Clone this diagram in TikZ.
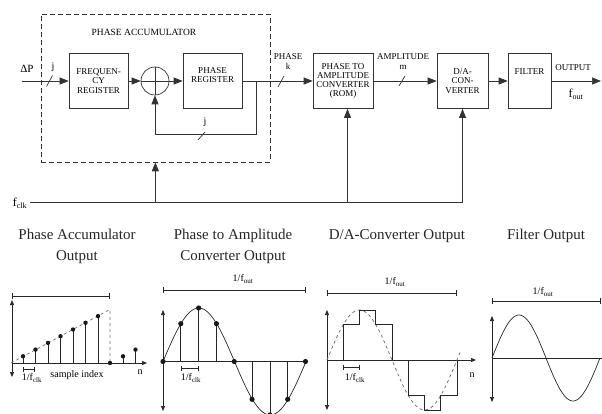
\documentclass[tikz,border=0pt]{standalone}
\usepackage{fontspec}
\setmainfont{Liberation Serif}
\usetikzlibrary{arrows.meta}
\begin{document}
\begin{tikzpicture}[x=1pt,y=-1pt,
  ln/.style={draw=black!80, line width=0.7pt},
  blk/.style={ln, rectangle, minimum height=55pt, inner sep=0pt, align=center, font=\fontsize{9}{9.3}\selectfont},
  lbl/.style={inner sep=0pt, align=center, font=\fontsize{9}{10}\selectfont},
  arr/.style={ln, -{Triangle[length=9pt,width=7pt]}},
  ax/.style={draw=black!85, line width=0.7pt},
  tip/.style={-{Triangle[length=5pt,width=4pt]}},
  tips/.style={{Triangle[length=5pt,width=4pt]}-{Triangle[length=5pt,width=4pt]}},
  brk/.style={ax, {Bar[width=6pt]}-{Bar[width=6pt]}},
  sbrk/.style={ax, {Bar[width=5pt]}-{Bar[width=5pt]}},
  ttl/.style={inner sep=0pt, align=center, font=\fontsize{15}{21}\selectfont, text=black!85},
  sm/.style={inner sep=0pt, font=\fontsize{10}{12}\selectfont},
  dot/.style={fill=black!90}
]
\useasboundingbox (0,0) rectangle (602,414);

% ---------------- block diagram ----------------
\node[ln, dashed, dash pattern=on 5pt off 3pt, minimum width=229pt, minimum height=148pt, inner sep=0pt] (acc) at (155.35,88) {};
\node[lbl, font=\fontsize{9.5}{10}\selectfont] (acct) at (144,32) {PHASE ACCUMULATOR};

\node[blk, minimum width=59pt] (freq) at (98.5,81) {FREQUEN-\\CY\\REGISTER};
\node[ln, circle, minimum size=28pt, inner sep=0pt] (add) at (155,81) {};
\draw[ln] (add.west) -- (add.east) (add.north) -- (add.south);
\node[blk, minimum width=59pt] (preg) at (212.5,81) {PHASE\\REGISTER\\[2pt]};
\node[blk, minimum width=60pt] (rom) at (343,81) {PHASE TO\\AMPLITUDE\\CONVERTER\\(ROM)};
\node[blk, minimum width=51pt] (dac) at (462.5,81) {D/A-\\CON-\\VERTER};
\node[blk, minimum width=43pt] (filt) at (529.5,81) {};
\node[lbl] (filtt) at (529.5,72) {FILTER};

\coordinate (in) at (22,81);
\coordinate (out) at (601,81);
\coordinate (tap) at (256,81);

\draw[arr] (in) -- (freq.west);
\draw[arr] (freq.east) -- (add.west);
\draw[arr] (add.east) -- (preg.west);
\draw[arr] (preg.east) -- (rom.west);
\draw[arr] (tap) -- (256,134) -| (add.south);
\draw[arr] (rom.east) -- (dac.west);
\draw[arr] (dac.east) -- (filt.west);
\draw[arr] (filt.east) -- (out);

% slashes
\draw[ln] (46.5,86.5) -- (52.5,75.5);
\draw[ln] (198,140) -- (205,132);
\draw[ln] (278,87) -- (284,76);
\draw[ln] (399,86) -- (405,76);

\node[inner sep=0pt, font=\fontsize{11}{12}\selectfont] (dp) at (27,69) {ΔP};
\node[sm] (jin) at (53,67) {j};
\node[sm] (jfb) at (205,122) {j};
\node[lbl] (ph) at (288,62) {PHASE\\k};
\node[lbl] (am) at (403,62) {AMPLITUDE\\m};
\node[lbl] (op) at (573,68) {OUTPUT};
\node[inner sep=0pt, font=\fontsize{12}{14}\selectfont] (fo) at (576,94) {f\textsubscript{out}};

% clock
\node[inner sep=0pt, font=\fontsize{12}{14}\selectfont] (fc) at (20,203) {f\textsubscript{clk}};
\coordinate (c0) at (30,202);
\coordinate (c1) at (155.35,202);
\coordinate (c2) at (347.5,202);
\coordinate (c3) at (462.5,202);
\draw[ln] (c0) -- (c3);
\draw[arr] (c1) -- (acc.south);
\draw[arr] (c2) -- (c2 |- rom.south);
\draw[arr] (c3) -- (dac.south);

% ---------------- titles ----------------
\node[ttl] (t1) at (77,246.5) {Phase Accumulator\\Output};
\node[ttl] (t2) at (233,246.5) {Phase to Amplitude\\Converter Output};
\node[ttl] (t3) at (397,236) {D/A-Converter Output};
\node[ttl] (t4) at (546,236) {Filter Output};

% ---------------- plot 1 ----------------
\draw[ax, tips] (12,300) -- (12,377);
\draw[ax, tip] (12,363) -- (147,363);
\draw[brk] (12,296) -- (110,296);
\draw[black!55, dashed, line width=0.7pt] (11,363) -- (110,309.4) -- (110,363);
\foreach \k in {0,...,6} {
  \draw[ax] ({23+12.5*\k},363) -- ({23+12.5*\k},{356.3-6.7*\k});
  \fill[dot] ({23+12.5*\k},{356.3-6.7*\k}) circle (2.2pt);
}
\fill[dot] (110,363) circle (2.2pt);
\draw[ax] (123,363) -- (123,356.3);
\fill[dot] (123,356.3) circle (2.2pt);
\draw[ax] (135.5,363) -- (135.5,349.6);
\fill[dot] (135.5,349.6) circle (2.2pt);
\draw[sbrk] (23,369) -- (35,369);
\node[sm] (p1c) at (32,378) {1/f\textsubscript{clk}};
\node[sm] (p1s) at (77,375) {sample index};
\node[sm] (p1n) at (140,372) {n};

% ---------------- plot 2 ----------------
\draw[brk] (163,290) -- (305.5,290);
\node[sm] (p2o) at (243,279) {1/f\textsubscript{out}};
\draw[ax, tips] (163,310) -- (163,411);
\draw[ax] (163,361.5) -- (306,361.5);
\draw[ax] plot[domain=0:143, samples=90, smooth] ({163+\x},{361.5-53.5*sin(\x/143*360)});
\foreach \k in {0,...,8} {
  \pgfmathsetmacro\xx{163+\k*142.5/8}
  \pgfmathsetmacro\yy{361.5-53.5*sin(\k*45)}
  \draw[ax] (\xx,361.5) -- (\xx,\yy);
  \fill[dot] (\xx,\yy) circle (2.6pt);
}
\draw[sbrk] (181,368) -- (199,368);
\node[sm] (p2c) at (191,378) {1/f\textsubscript{clk}};

% ---------------- plot 3 ----------------
\draw[brk] (327,293) -- (457,293);
\node[sm] (p3o) at (395,282) {1/f\textsubscript{out}};
\draw[ax, tips] (327,310) -- (327,410);
\draw[ax, tip] (327,360) -- (476,360);
\draw[black!60, dashed, line width=0.7pt] plot[domain=0:134, samples=90, smooth] ({327+\x},{360-50*sin(\x/130*360)});
\draw[ax] (327,360) -- (343.25,360) -- (343.25,324.6) -- (359.5,324.6) -- (359.5,310) -- (375.75,310)
  -- (375.75,324.6) -- (392,324.6) -- (392,360) -- (408.25,360) -- (408.25,395.4) -- (424.5,395.4)
  -- (424.5,410) -- (440.75,410) -- (440.75,395.4) -- (457,395.4) -- (457,360);
\draw[sbrk] (343,367) -- (359.5,367);
\node[sm] (p3c) at (355,378) {1/f\textsubscript{clk}};
\node[sm] (p3n) at (472,375) {n};

% ---------------- plot 4 ----------------
\draw[brk] (492,301) -- (601,301);
\node[sm] (p4o) at (543,292) {1/f\textsubscript{out}};
\draw[ax, tips] (492,316) -- (492,402);
\draw[ax] (492,358) -- (602,358);
\draw[ax] plot[domain=0:108, samples=80, smooth] ({492+\x},{358-43*sin(\x/108*360)});
\end{tikzpicture}
\end{document}
